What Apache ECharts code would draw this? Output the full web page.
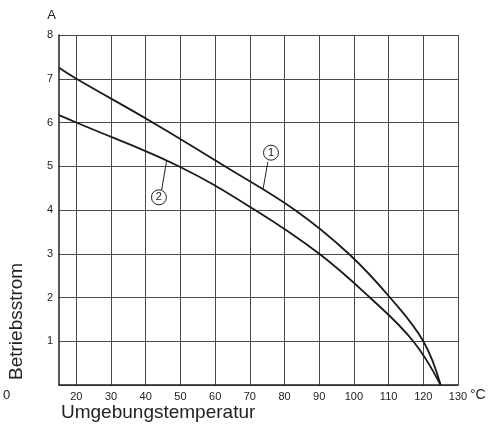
<!DOCTYPE html>
<html>
<head>
<meta charset="utf-8">
<script src="https://cdn.jsdelivr.net/npm/echarts@6/dist/echarts.min.js"></script>
<style>html,body{margin:0;padding:0;background:#fff;}#c{width:488px;height:425px;}</style>
</head>
<body>
<div id="c"></div>
<script>
// Curve 1 (upper): read where it crosses the grid lines
const temps1 = [15, 20, 42, 62.8, 83, 98.5, 110.4, 120, 125];
const current1 = [7.25, 7.0, 6.0, 5.0, 4.0, 3.0, 2.0, 1.0, 0];
// Curve 2 (lower)
const temps2 = [15, 20, 49.5, 71.5, 90, 104.6, 117.1, 125];
const current2 = [6.17, 6.0, 5.0, 4.0, 3.0, 2.0, 1.0, 0];
// Tick labels
const xTicks = [20, 30, 40, 50, 60, 70, 80, 90, 100, 110, 120, 130];
const yTicks = [0, 1, 2, 3, 4, 5, 6, 7, 8];
// Curve markers (label, circle position, leader start, leader end) in data units
const markerLabels = ['1', '2'];
const markerPos = [[76.1, 5.31], [43.8, 4.29]];
const leaderFrom = [[75.2, 5.10], [44.6, 4.46]];
const leaderTo = [[73.8, 4.47], [46.0, 5.12]];

const chart = echarts.init(document.getElementById('c'), null, {renderer: 'canvas'});
const font = '"Liberation Sans", Arial, sans-serif';
const pair = (xs, ys) => xs.map((x, i) => [x, ys[i]]);

chart.setOption({
  backgroundColor: '#fff',
  animation: false,
  grid: {left: 59, right: 30, top: 35, bottom: 40, containLabel: false, outerBoundsMode: 'none'},
  xAxis: {
    type: 'value', min: 15, max: 130,
    axisLine: {show: true, lineStyle: {color: '#222', width: 1.5}},
    axisTick: {show: false, customValues: xTicks},
    axisLabel: {customValues: xTicks, fontFamily: font, fontSize: 11, color: '#222', margin: 6},
    splitLine: {show: true, lineStyle: {color: '#4a4a4a', width: 1}}
  },
  yAxis: {
    type: 'value', min: 0, max: 8, interval: 1,
    name: 'A', nameLocation: 'end', nameGap: 13,
    nameTextStyle: {fontFamily: font, fontSize: 13, color: '#222', align: 'right', padding: [0, 3, 0, 0]},
    axisLine: {show: true, lineStyle: {color: '#222', width: 1.5}},
    axisTick: {show: false},
    axisLabel: {fontFamily: font, fontSize: 11, color: '#222', margin: 6,
      formatter: v => (yTicks.indexOf(v) > 0 ? String(v) : '')},
    splitLine: {show: true, lineStyle: {color: '#4a4a4a', width: 1}}
  },
  graphic: [
    {type: 'text', left: 3, top: 389, style: {text: '0', font: '13px ' + font, fill: '#222'}},
    {type: 'text', left: 470, top: 388, style: {text: '°C', font: '14px ' + font, fill: '#222'}},
    {type: 'text', left: 61, top: 403, style: {text: 'Umgebungstemperatur', font: '19px ' + font, fill: '#222'}},
    {type: 'text', x: 7, y: 380, rotation: Math.PI / 2, style: {text: 'Betriebsstrom', font: '19px ' + font, fill: '#222', textVerticalAlign: 'top'}}
  ],
  series: [
    {
      type: 'line', data: pair(temps1, current1), smooth: 0.4, symbol: 'none',
      lineStyle: {color: '#1a1a1a', width: 1.8},
      markPoint: {
        symbol: 'circle', symbolSize: 15,
        itemStyle: {color: '#fff', borderColor: '#222', borderWidth: 1},
        label: {show: true, position: 'inside', color: '#222', fontSize: 11, fontFamily: font, formatter: p => p.value},
        data: markerLabels.map((t, i) => ({coord: markerPos[i], value: t}))
      },
      markLine: {
        silent: true, symbol: 'none', label: {show: false},
        lineStyle: {color: '#222', width: 1, type: 'solid'},
        data: leaderFrom.map((f, i) => [{coord: f}, {coord: leaderTo[i]}])
      }
    },
    {
      type: 'line', data: pair(temps2, current2), smooth: 0.4, symbol: 'none',
      lineStyle: {color: '#1a1a1a', width: 1.8}
    }
  ]
});
</script>
</body>
</html>
